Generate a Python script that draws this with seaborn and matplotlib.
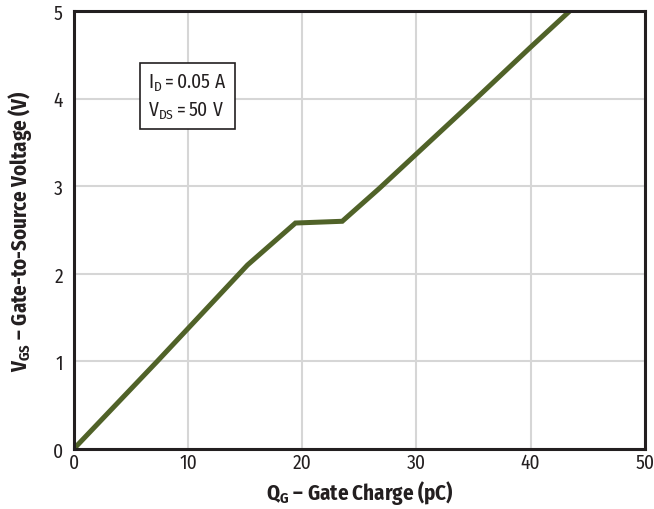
import matplotlib
matplotlib.use("Agg")
import matplotlib.pyplot as plt
import seaborn as sns
import pandas as pd

# Gate charge curve: Q_G (pC) vs V_GS (V)
gate_charge_pc = [0.0, 7.3, 15.2, 19.4, 23.5, 26.7, 30.0, 35.2, 40.0, 43.4]
gate_voltage_v = [0.0, 1.0, 2.1, 2.58, 2.60, 2.97, 3.37, 4.0, 4.59, 5.0]
x_ticks = [0, 10, 20, 30, 40, 50]
y_ticks = [0, 1, 2, 3, 4, 5]

sns.set_theme(style="white")
FONT = "Fira Sans Condensed"
plt.rcParams["font.family"] = [FONT, "DejaVu Sans"]
plt.rcParams["mathtext.fontset"] = "custom"
plt.rcParams["mathtext.rm"] = FONT
plt.rcParams["mathtext.bf"] = FONT + ":bold"
plt.rcParams["mathtext.it"] = FONT + ":italic"

df = pd.DataFrame({"Q": gate_charge_pc, "V": gate_voltage_v})

fig = plt.figure(figsize=(6.54, 5.10), dpi=100)
ax = fig.add_axes([0.113, 0.118, 0.873, 0.858])

sns.lineplot(data=df, x="Q", y="V", ax=ax, color="#506228", linewidth=3.6,
             solid_joinstyle="miter", zorder=3)

ax.set_xlim(0, 50)
ax.set_ylim(0, 5)
ax.set_xticks(x_ticks)
ax.set_yticks(y_ticks)
ax.grid(True, color="#d6d6d6", linewidth=1.5)
ax.tick_params(axis="both", length=0, labelsize=14, colors="#231f20")
ax.tick_params(axis="x", pad=3)
ax.tick_params(axis="y", pad=8)
for s in ax.spines.values():
    s.set_color("#231f20")
    s.set_linewidth(2.2)
    s.set_zorder(4)

ax.set_xlabel(r"$\mathbf{Q_G}$ – Gate Charge (pC)", fontsize=15,
              fontweight="bold", labelpad=4, color="#231f20")
ax.set_ylabel(r"$\mathbf{V_{GS}}$ – Gate-to-Source Voltage (V)", fontsize=15,
              fontweight="bold", labelpad=13, color="#231f20")

ax.text(6.5, 4.03, "$\\mathrm{I_D = 0.05\\ A}$\n$\\mathrm{V_{DS} = 50\\ V}$",
        fontsize=14, va="center", ha="left", linespacing=1.4, color="#231f20",
        bbox=dict(boxstyle="square,pad=0.42", facecolor="white",
                  edgecolor="#231f20", linewidth=1.2), zorder=5)

fig.savefig("out.png", dpi=100)
